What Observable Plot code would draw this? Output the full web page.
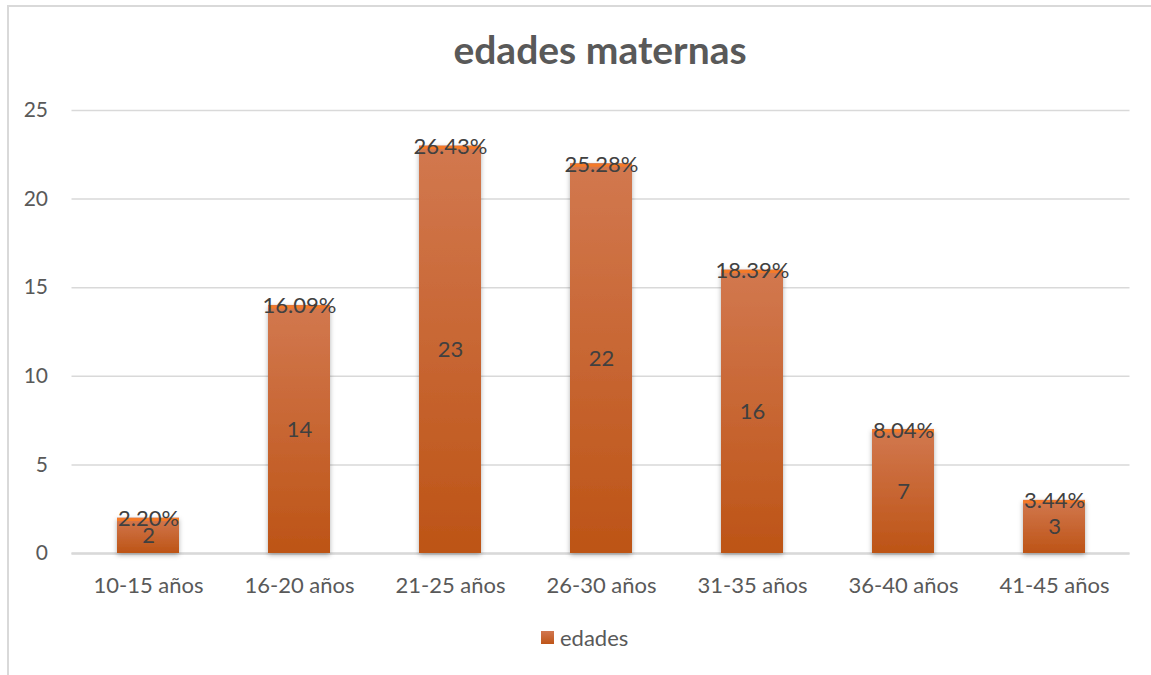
<!DOCTYPE html>
<html>
<head>
<meta charset="utf-8">
<script src="https://cdn.jsdelivr.net/npm/d3@7"></script>
<script src="https://cdn.jsdelivr.net/npm/@observablehq/plot@0.6"></script>
<style>
  html, body { margin: 0; padding: 0; background: #fff; }
  body { width: 1151px; height: 675px; overflow: hidden; position: relative; font-family: Lato, "Open Sans", sans-serif; }
  #frame { position: absolute; left: 7px; top: 5px; width: 1200px; height: 700px; border-top: 2px solid #d9d9d9; border-left: 2px solid #d9d9d9; }
  #title { position: absolute; left: 0; width: 1200px; top: 26px; text-align: center; font-size: 39px; font-weight: bold; color: #595959; }
  #chart { position: absolute; left: 0; top: 90px; }
  #legend { position: absolute; top: 624px; left: 541px; display: flex; align-items: center; font-size: 22px; color: #595959; }
  #legend .sw { width: 13px; height: 13px; background: linear-gradient(#d27750, #be5518); margin-right: 6px; }
</style>
</head>
<body>
<div id="frame"></div>
<div id="title">edades maternas</div>
<div id="chart"></div>
<div id="legend"><span class="sw"></span><span>edades</span></div>
<script>
// Age groups of mothers, counts and share of total
const grupos = ["10-15 años", "16-20 años", "21-25 años", "26-30 años", "31-35 años", "36-40 años", "41-45 años"];
const edades = [2, 14, 23, 22, 16, 7, 3];
const porcentajes = ["2.20%", "16.09%", "26.43%", "25.28%", "18.39%", "8.04%", "3.44%"];
const yTicks = [0, 5, 10, 15, 20, 25];

const data = grupos.map((g, i) => ({grupo: g, valor: edades[i], pct: porcentajes[i]}));

// Vertical gradient and soft shadow used for each bar
const defs = () => {
  const ns = "http://www.w3.org/2000/svg";
  const d = document.createElementNS(ns, "defs");
  const lg = document.createElementNS(ns, "linearGradient");
  lg.setAttribute("id", "barGrad");
  lg.setAttribute("x1", "0"); lg.setAttribute("y1", "0");
  lg.setAttribute("x2", "0"); lg.setAttribute("y2", "1");
  [["0%", "#d2784f"], ["100%", "#bd5416"]].forEach(([o, c]) => {
    const s = document.createElementNS(ns, "stop");
    s.setAttribute("offset", o); s.setAttribute("stop-color", c);
    lg.appendChild(s);
  });
  d.appendChild(lg);
  const f = document.createElementNS(ns, "filter");
  f.setAttribute("id", "shadow");
  f.setAttribute("x", "-20%"); f.setAttribute("y", "-20%");
  f.setAttribute("width", "140%"); f.setAttribute("height", "140%");
  f.innerHTML = '<feDropShadow dx="0" dy="2" stdDeviation="2.5" flood-color="#000" flood-opacity="0.3"/>';
  d.appendChild(f);
  return d;
};

const chart = Plot.plot({
  width: 1151,
  height: 503,
  marginTop: 20,
  marginBottom: 40,
  marginLeft: 71.5,
  marginRight: 21.5,
  style: {fontFamily: "Lato, 'Open Sans', sans-serif", fontSize: "21px", color: "#595959", background: "transparent", overflow: "visible"},
  x: {domain: grupos, paddingInner: 0.59, paddingOuter: 0.295, label: null, tickSize: 0, tickPadding: 24},
  y: {domain: [0, 25], ticks: yTicks, label: null, tickSize: 0, tickPadding: 24},
  marks: [
    defs,
    Plot.gridY(yTicks, {stroke: "#d9d9d9", strokeOpacity: 1, strokeWidth: 1.5}),
    Plot.ruleY([0], {stroke: "#d9d9d9", strokeWidth: 2.5}),
    Plot.axisX({tickSize: 0, tickPadding: 24, fontSize: 22, label: null}),
    Plot.barY(data, {x: "grupo", y: "valor", fill: "url(#barGrad)", render: (i, s, v, d, c, next) => {
      const g = next(i, s, v, d, c);
      g.setAttribute("filter", "url(#shadow)");
      return g;
    }}),
    Plot.tickY(data, {x: "grupo", y: "valor", stroke: "#f47a28", strokeWidth: 3, dy: 1.5}),
    Plot.text(data, {x: "grupo", y: d => d.valor / 2, text: d => String(d.valor), fill: "#404040", fontSize: 22}),
    Plot.text(data, {x: "grupo", y: "valor", text: "pct", fill: "#404040", fontSize: 22, dy: 1})
  ]
});
document.getElementById("chart").appendChild(chart);
</script>
</body>
</html>
